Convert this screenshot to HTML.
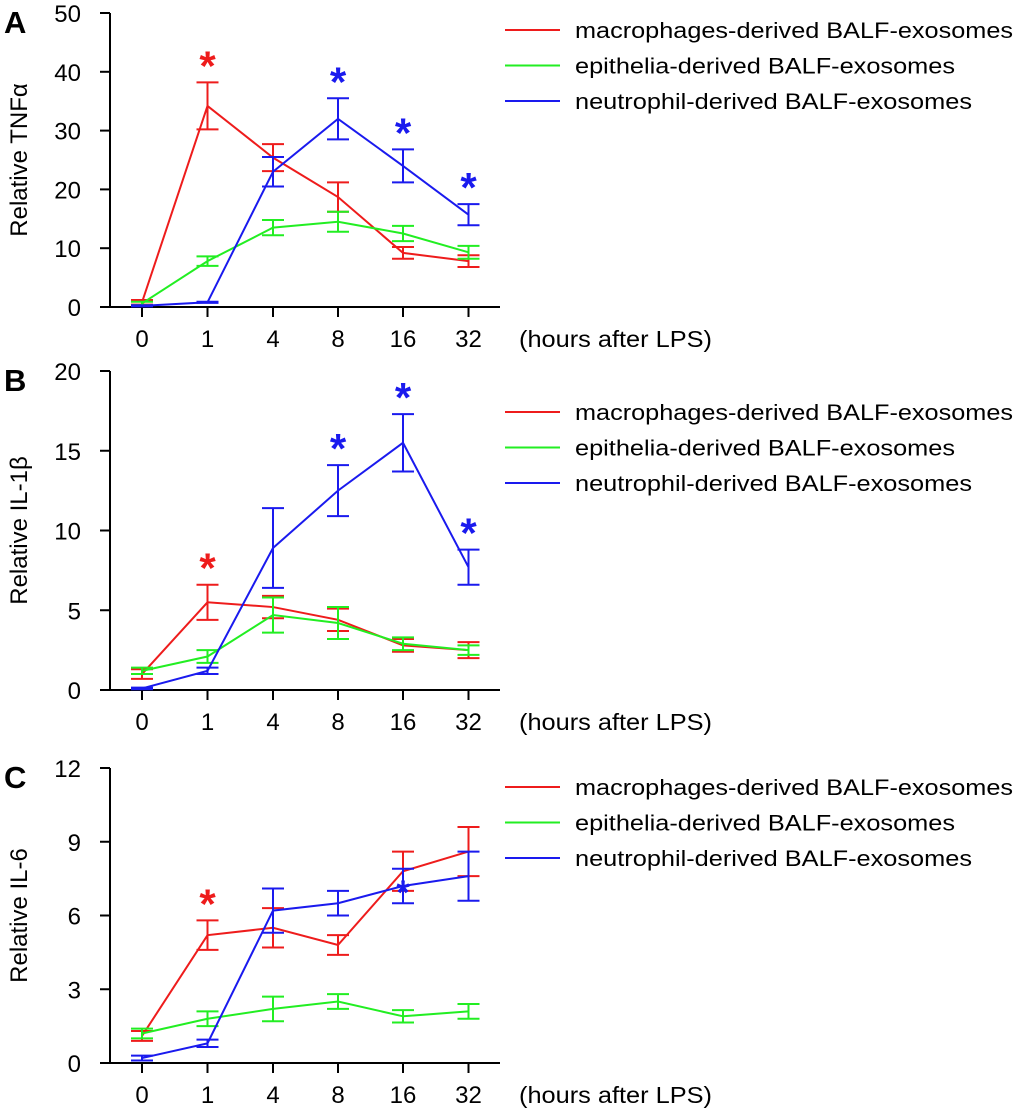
<!DOCTYPE html>
<html><head><meta charset="utf-8"><style>
html,body{margin:0;padding:0;background:#fff;}
svg{display:block;font-family:"Liberation Sans",sans-serif;}
</style></head><body>
<svg id="s" width="1020" height="1114"></svg>
<script>
const xCategories=["0","1","4","8","16","32"];
const seriesNames=["macrophages-derived BALF-exosomes","epithelia-derived BALF-exosomes","neutrophil-derived BALF-exosomes"];
const seriesColors=["#ee1c1c","#22ee22","#1a1aee"];
const aTicks=[0,10,20,30,40,50];
const aRed=[0.8,34.2,25.4,18.7,9.2,7.8], aRedErr=[0.4,4,2.3,2.5,1,1];
const aGreen=[0.6,7.8,13.5,14.5,12.5,9.3], aGreenErr=[0.3,0.8,1.3,1.7,1.3,1.1];
const aBlue=[0.2,0.8,23,32,24,15.7], aBlueErr=[0.1,0.1,2.5,3.5,2.8,1.8];
const aStars=[[0,1],[2,3],[2,4],[2,5]];
const bTicks=[0,5,10,15,20];
const bRed=[1.0,5.5,5.2,4.4,2.8,2.5], bRedErr=[0.3,1.1,0.7,0.7,0.4,0.5];
const bGreen=[1.2,2.1,4.7,4.2,2.9,2.5], bGreenErr=[0.2,0.4,1.1,1.0,0.4,0.3];
const bBlue=[0.1,1.2,8.9,12.5,15.5,7.7], bBlueErr=[0.05,0.2,2.5,1.6,1.8,1.1];
const bStars=[[0,1],[2,3],[2,4],[2,5]];
const cTicks=[0,3,6,9,12];
const cRed=[1.1,5.2,5.5,4.8,7.8,8.6], cRedErr=[0.2,0.6,0.8,0.4,0.8,1.0];
const cGreen=[1.2,1.8,2.2,2.5,1.9,2.1], cGreenErr=[0.2,0.3,0.5,0.3,0.25,0.3];
const cBlue=[0.2,0.8,6.2,6.5,7.2,7.6], cBlueErr=[0.1,0.15,0.9,0.5,0.7,1.0];
const cStars=[[0,1]];
const legendWidths=[438,380,397];
const NS="http://www.w3.org/2000/svg";
const svg=document.getElementById('s');
function mk(t,a,p){const e=document.createElementNS(NS,t);for(const k in a)e.setAttribute(k,a[k]);(p||svg).appendChild(e);return e;}
const xPos=[142,207.5,273,338,403,468.5];
function xScale(i){return xPos[i];}
function panel(cfg){
 const g=mk('g',{});
 
 
 const max=cfg.ticks[cfg.ticks.length-1];
 const y=v=>cfg.y0-(v/max)*(cfg.y0-cfg.yTop);
 const L=mk('text',{x:4,y:cfg.yTop+20,'font-size':31,'font-weight':'bold'},g);L.textContent=cfg.letter;
 
 const ax=mk('path',{d:`M110 ${cfg.yTop}V${cfg.y0}M100 ${cfg.y0}H500`,stroke:'#000','stroke-width':2,fill:'none'},g);
 
 cfg.ticks.forEach(t=>{
  mk('line',{x1:100,x2:110,y1:y(t),y2:y(t),stroke:'#000','stroke-width':2},g);
  const tx=mk('text',{x:81,y:y(t)+9,'font-size':24,'text-anchor':'end'},g);tx.textContent=t;
  
 });
 xCategories.forEach((c,i)=>{
  mk('line',{x1:xScale(i),x2:xScale(i),y1:cfg.y0,y2:cfg.y0+10,stroke:'#000','stroke-width':2},g);
  const tx=mk('text',{x:xScale(i),y:cfg.y0+40,'font-size':24,'text-anchor':'middle'},g);tx.textContent=c;
  
 });
 const xt=mk('text',{x:519,y:cfg.y0+40,'font-size':23,textLength:193,lengthAdjust:'spacingAndGlyphs'},g);xt.textContent='(hours after LPS)';
 
 const cy=(cfg.yTop+cfg.y0)/2;
 const yt=mk('text',{x:0,y:0,'font-size':24,'text-anchor':'middle',transform:`translate(27 ${cy}) rotate(-90)`},g);yt.textContent=cfg.title;
 
 cfg.series.forEach((s,k)=>{
  const col=seriesColors[k];
  const ln=mk('polyline',{points:s.v.map((v,i)=>xScale(i)+','+y(v)).join(' '),fill:'none',stroke:col,'stroke-width':2},g);
  
  s.v.forEach((v,i)=>{
   const x=xScale(i),t=y(v+s.e[i]),b=y(v-s.e[i]);
   const eb=mk('path',{d:`M${x} ${t}V${b}M${x-11} ${t}H${x+11}M${x-11} ${b}H${x+11}`,stroke:col,'stroke-width':2,fill:'none'},g);
   
  });
  const ly=cfg.legY+k*35.5;
  mk('line',{x1:505,x2:560,y1:ly,y2:ly,stroke:col,'stroke-width':2},g);
  const lt=mk('text',{x:575,y:ly+8,'font-size':22,textLength:legendWidths[k],lengthAdjust:'spacingAndGlyphs'},g);lt.textContent=seriesNames[k];
  
 });
 cfg.stars.forEach(([k,i])=>{
  const s=cfg.series[k];
  const top=y(s.v[i]+s.e[i]);
  const st=mk('text',{x:xScale(i),y:top-2,'font-size':42,'font-weight':'bold','text-anchor':'middle',fill:seriesColors[k]},g);
  st.textContent='*';
  
 });
}
panel({letter:'A',title:'Relative TNFα',ticks:aTicks,yTop:13,y0:307,legY:30,stars:aStars,
 series:[{v:aRed,e:aRedErr},{v:aGreen,e:aGreenErr},{v:aBlue,e:aBlueErr}]});
panel({letter:'B',title:'Relative IL-1β',ticks:bTicks,yTop:371,y0:690,legY:412,stars:bStars,
 series:[{v:bRed,e:bRedErr},{v:bGreen,e:bGreenErr},{v:bBlue,e:bBlueErr}]});
panel({letter:'C',title:'Relative IL-6',ticks:cTicks,yTop:768,y0:1063,legY:787,stars:cStars,
 series:[{v:cRed,e:cRedErr},{v:cGreen,e:cGreenErr},{v:cBlue,e:cBlueErr}]});
(function(){
 const yC=v=>1063-(v/12)*(1063-768);
 const st=mk('text',{x:xScale(4),y:yC(cBlue[4])+18,'font-size':34,'font-weight':'bold','text-anchor':'middle',fill:seriesColors[2]});
 st.textContent='*';
 
 
})();
</script>
</body></html>
